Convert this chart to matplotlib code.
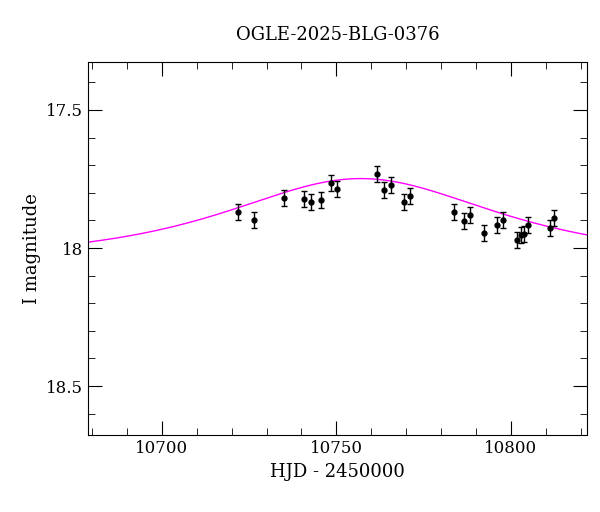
import numpy as np
import matplotlib
matplotlib.use("Agg")
import matplotlib.pyplot as plt
from matplotlib.ticker import MultipleLocator

hjd = [10721.8, 10726.4, 10735.0, 10740.7, 10742.7, 10745.6, 10748.4, 10750.1,
       10761.6, 10763.6, 10765.6, 10769.3, 10771.1, 10783.7, 10786.5, 10788.3,
       10792.3, 10796.0, 10797.7, 10801.7, 10802.9, 10803.7, 10804.9, 10811.2, 10812.3]
mag = [17.870, 17.899, 17.819, 17.822, 17.833, 17.826, 17.764, 17.786,
       17.732, 17.790, 17.772, 17.833, 17.812, 17.870, 17.902, 17.880,
       17.946, 17.917, 17.899, 17.971, 17.953, 17.949, 17.917, 17.928, 17.891]
err = [0.03] * len(hjd)

# model parameters
t0, tE, u0, m0 = 10757.0, 45.0, 1.05, 18.04

def model(t):
    u = np.sqrt(u0**2 + ((t - t0) / tE)**2)
    A = (u**2 + 2) / (u * np.sqrt(u**2 + 4))
    return m0 - 2.5 * np.log10(A)

plt.rcParams["font.family"] = "DejaVu Serif"
fig = plt.figure(figsize=(6, 5.12), dpi=100)
ax = fig.add_axes([0.1467, 0.150, 0.8313, 0.729])
tt = np.linspace(10678.8, 10821.8, 500)
ax.plot(tt, model(tt), color="magenta", lw=1)
ax.errorbar(hjd, mag, yerr=err, fmt="o", color="black", ms=3.5,
            ecolor="black", elinewidth=1, capsize=2.5)
ax.set_xlim(10678.8, 10821.8)
ax.set_ylim(18.678, 17.326)
ax.xaxis.set_major_locator(MultipleLocator(50))
ax.xaxis.set_minor_locator(MultipleLocator(10))
ax.yaxis.set_major_locator(MultipleLocator(0.5))
ax.yaxis.set_minor_locator(MultipleLocator(0.1))
ax.yaxis.set_major_formatter(matplotlib.ticker.FuncFormatter(lambda v, p: f"{v:g}"))
ax.tick_params(which="both", direction="in", top=True, right=True, labelsize=12)
ax.tick_params(which="major", length=10)
ax.tick_params(which="minor", length=5)
ax.set_xlabel("HJD - 2450000", fontsize=13)
ax.set_ylabel("I magnitude", fontsize=13)
ax.set_title("OGLE-2025-BLG-0376", fontsize=13, pad=16)
fig.savefig("out.png")
